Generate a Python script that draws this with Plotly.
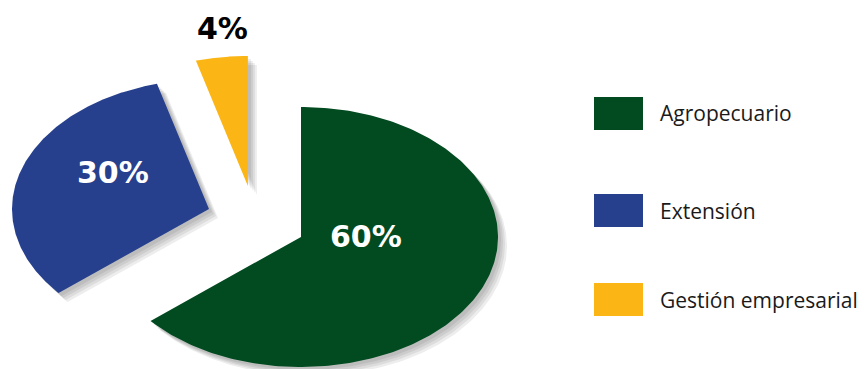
import numpy as np
import plotly.graph_objects as go

# ---- data ----
LABELS = ["Agropecuario", "Extensión", "Gestión empresarial"]
VALUES = [60, 30, 4]
COLORS = ["#024b20", "#26408e", "#fbb616"]
TEXT_COLORS = ["#ffffff", "#ffffff", "#000000"]

# ---- styling / layout constants ----
W, H = 868, 369
CX, CY = 301, 237          # pie centre in pixels
RX, RY = 197, 130          # ellipse radii in pixels (tilted pie look)
PULL = [0.0, 0.514, 0.476]          # explode distance (in radius units)
PULL_DIR = [0.0, 155.3, 124.5]      # explode direction (deg)
LABEL_R = [0.33, 0.56, 1.22]
LABEL_SHIFT = [25.0, -12.75, -1.65]
SHADOW = [(3, 3), (5, 5), (7, 7), (9, 9)]
LEGEND_X0, LEGEND_X1 = 594, 643
LEGEND_YC = [113.5, 210.5, 299.5]
LEGEND_H = 33
LEGEND_TX = 658

fig = go.Figure()

total = float(sum(VALUES))
start = 90.0
slices = []
for v, pull, pdir in zip(VALUES, PULL, PULL_DIR):
    sweep = v / total * 360.0
    a0, a1 = start, start - sweep
    start = a1
    ox = pull * np.cos(np.radians(pdir))
    oy = pull * np.sin(np.radians(pdir))
    th = np.radians(np.linspace(a0, a1, 240))
    xs = np.concatenate([[ox], ox + np.cos(th), [ox]])
    ys = np.concatenate([[oy], oy + np.sin(th), [oy]])
    slices.append((xs, ys, a0, a1, ox, oy))

# soft drop shadows
for xs, ys, *_ in slices:
    for dx, dy in SHADOW:
        fig.add_trace(go.Scatter(
            x=xs + dx / RX, y=ys - dy / RY, mode="lines", fill="toself",
            fillcolor="rgba(0,0,0,0.07)", line=dict(width=0),
            hoverinfo="skip", showlegend=False))

# slices
for (xs, ys, a0, a1, ox, oy), col, lab in zip(slices, COLORS, LABELS):
    fig.add_trace(go.Scatter(
        x=xs, y=ys, mode="lines", fill="toself", fillcolor=col,
        line=dict(width=0, color=col), name=lab,
        hoverinfo="skip", showlegend=False))

# percentage labels
annotations = []
for (xs, ys, a0, a1, ox, oy), v, tc, r, sh in zip(slices, VALUES, TEXT_COLORS, LABEL_R, LABEL_SHIFT):
    a = np.radians((a0 + a1) / 2.0 + sh)
    annotations.append(dict(
        x=ox + r * np.cos(a), y=oy + r * np.sin(a), xref="x", yref="y",
        text=f"{v}%", showarrow=False,
        font=dict(family="DejaVu Sans", size=30, color=tc, weight=700),
        xanchor="center", yanchor="middle"))

# legend (manual)
shapes = []
for lab, col, yc in zip(LABELS, COLORS, LEGEND_YC):
    shapes.append(dict(
        type="rect", xref="paper", yref="paper",
        x0=LEGEND_X0 / W, x1=LEGEND_X1 / W,
        y0=1 - (yc + LEGEND_H / 2) / H, y1=1 - (yc - LEGEND_H / 2) / H,
        fillcolor=col, line=dict(width=0)))
    annotations.append(dict(
        x=LEGEND_TX / W, y=1 - yc / H, xref="paper", yref="paper",
        text=lab, showarrow=False, xanchor="left", yanchor="middle",
        font=dict(family="Open Sans", size=21, color="#1a1a1a")))

fig.update_layout(
    width=W, height=H, margin=dict(l=0, r=0, t=0, b=0),
    paper_bgcolor="white", plot_bgcolor="white",
    xaxis=dict(range=[-CX / RX, (W - CX) / RX], visible=False, fixedrange=True),
    yaxis=dict(range=[-(H - CY) / RY, CY / RY], visible=False, fixedrange=True),
    shapes=shapes, annotations=annotations, showlegend=False,
)

fig.write_html("out.html", config={"displayModeBar": False})
